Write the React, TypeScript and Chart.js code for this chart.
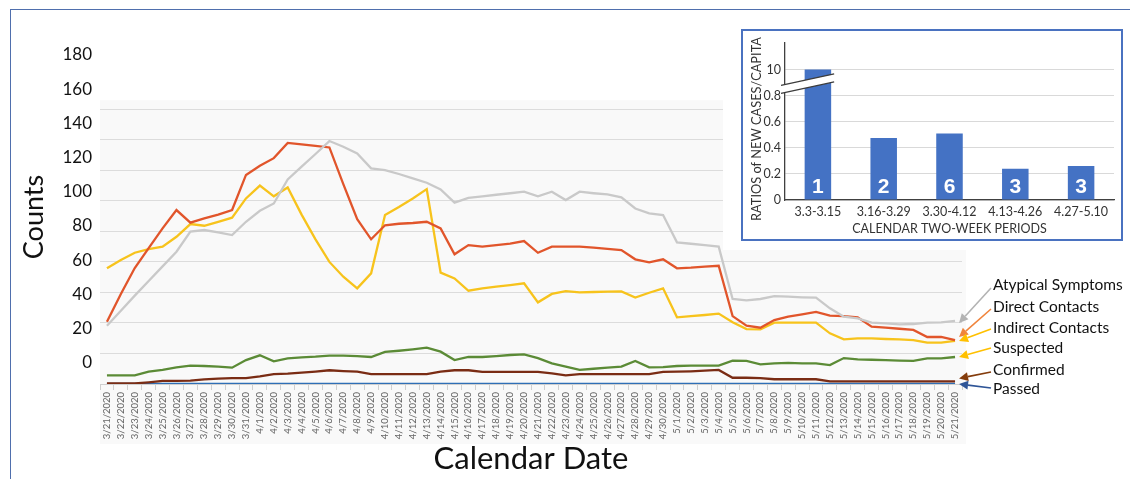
import React, { useEffect, useRef } from "react";
import { Chart, registerables } from "chart.js";

Chart.register(...registerables);

const FONT = "Lato, 'Open Sans', 'DejaVu Sans', sans-serif";

// ---------- main chart data ----------
const dates = [
  "3/21/2020", "3/22/2020", "3/23/2020", "3/24/2020", "3/25/2020", "3/26/2020", "3/27/2020", "3/28/2020", "3/29/2020", "3/30/2020", "3/31/2020",
  "4/1/2020", "4/2/2020", "4/3/2020", "4/4/2020", "4/5/2020", "4/6/2020", "4/7/2020", "4/8/2020", "4/9/2020", "4/10/2020",
  "4/11/2020", "4/12/2020", "4/13/2020", "4/14/2020", "4/15/2020", "4/16/2020", "4/17/2020", "4/18/2020", "4/19/2020", "4/20/2020",
  "4/21/2020", "4/22/2020", "4/23/2020", "4/24/2020", "4/25/2020", "4/26/2020", "4/27/2020", "4/28/2020", "4/29/2020", "4/30/2020",
  "5/1/2020", "5/2/2020", "5/3/2020", "5/4/2020", "5/5/2020", "5/6/2020", "5/7/2020", "5/8/2020", "5/9/2020", "5/10/2020",
  "5/11/2020", "5/12/2020", "5/13/2020", "5/14/2020", "5/15/2020", "5/16/2020", "5/17/2020", "5/18/2020", "5/19/2020", "5/20/2020",
  "5/21/2020",
];

const atypicalSymptoms = [
  38.2, 48, 57.9, 67.5, 77.1, 86.7, 99.8, 100.9, 99.3, 97.6,
  106.3, 113.5, 118.3, 134, 142.4, 150.7, 159.2, 155.5, 151, 141.3,
  140.2, 137.6, 134.7, 131.9, 127.5, 118.8, 122, 123, 124, 125,
  126, 123, 126, 120.5, 126, 125, 124.2, 122.3, 115, 111.8,
  110.7, 92.8, 91.9, 91, 90, 55.7, 54.8, 55.7, 57.6, 57.2,
  56.8, 56.6, 49.6, 44.1, 43, 40.2, 39.7, 39.1, 39.3, 40.2,
  40.4, 41.3,
];

const directContacts = [
  40.8, 59, 76, 89, 102, 114, 105.7, 108.5, 111, 114,
  137, 143, 148, 158, 157, 156, 155, 131, 108, 94.8,
  104, 105, 105.5, 106.3, 102, 85, 91, 90, 91, 92,
  93.7, 86, 90, 90, 90, 89.3, 88.6, 87.8, 81.7, 79.7,
  81.7, 75.8, 76.2, 76.9, 77.5, 44.5, 38.2, 36.9, 41.9, 44.1,
  45.6, 47.2, 44.8, 44.5, 43.7, 37.6, 36.9, 36.2, 35.4, 30.8,
  30.8, 28.8,
];

const indirectContacts = [
  75.8, 81.2, 86, 88.4, 90, 96.5, 104.8, 103.7, 106.3, 109,
  121.6, 130, 123, 128.8, 111, 94.8, 80, 70.3, 62.7, 72.5,
  110.7, 116, 121.6, 127.7, 73, 69.2, 61.1, 62.7, 63.8, 64.8,
  66, 53.5, 59, 60.9, 60, 60.3, 60.5, 60.7, 56.6, 59.8,
  62.7, 43.7, 44.5, 45.2, 46.1, 40.4, 36, 35.8, 40.2, 40.2,
  40.2, 40.2, 33.2, 29.3, 29.9, 29.9, 29.5, 29.3, 28.8, 27.1,
  27.1, 28.2,
];

const suspected = [
  5.7, 5.7, 5.7, 8.1, 9.2, 10.9, 12, 11.8, 11.4, 10.7,
  15.7, 18.8, 14.8, 16.8, 17.5, 17.9, 18.6, 18.6, 18.3, 17.7,
  21, 21.8, 22.7, 23.8, 21.2, 15.7, 17.7, 17.7, 18.3, 19,
  19.4, 17, 13.5, 11.4, 9.2, 10, 10.7, 11.4, 15.1, 10.9,
  11.1, 11.8, 12, 12, 12, 15.3, 15.1, 12.9, 13.5, 13.8,
  13.5, 13.5, 12.4, 17, 16.2, 15.9, 15.7, 15.3, 15.1, 16.8,
  16.8, 17.7,
];

const confirmed = [
  0.4, 0.4, 0.4, 1.1, 2, 2, 2.2, 3, 3.5, 3.9,
  3.9, 5, 6.5, 6.8, 7.4, 8.1, 9, 8.5, 8.1, 6.5,
  6.5, 6.5, 6.5, 6.5, 8.1, 9, 9, 7.9, 7.9, 7.9,
  7.9, 7.9, 7, 5.7, 6.5, 6.5, 6.5, 6.5, 6.5, 6.5,
  7.9, 8.1, 8.3, 8.7, 9.2, 4.1, 4.1, 3.9, 3.1, 3.1,
  3.1, 3.1, 1.7, 1.7, 1.7, 1.7, 1.7, 1.7, 1.7, 1.7,
  1.7, 1.7,
];

const passed = [
  0, 0, 0, 0, 0, 0, 0, 0, 0, 0,
  0, 0, 0, 0, 0, 0, 0, 0, 0, 0,
  0, 0, 0, 0, 0, 0, 0, 0, 0, 0,
  0, 0, 0, 0, 0, 0, 0, 0, 0, 0,
  0, 0, 0, 0, 0, 0, 0, 0, 0, 0,
  0, 0, 0, 0, 0, 0, 0, 0, 0, 0,
  0, 0,
];

const seriesNames = ["Atypical Symptoms", "Direct Contacts", "Indirect Contacts", "Suspected", "Confirmed", "Passed"];
const seriesColors = ["#c9c9c9", "#e1552b", "#f7c31c", "#5b8b36", "#7a2c14", "#2f6fb6"];
const arrowColors = ["#b3b3b3", "#f0843c", "#ffc000", "#ffc000", "#843c0c", "#2f5597"];

// gridline values of the data axis, and the (offset) typed labels of the count axis
const countGridTicks = [0, 20, 40, 60, 80, 100, 120, 140, 160, 180];
const countLabelTicks = [0, 20, 40, 60, 80, 100, 120, 140, 160, 180];

// ---------- inset data ----------
const periods = ["3.3-3.15", "3.16-3.29", "3.30-4.12", "4.13-4.26", "4.27-5.10"];
const ratios = [10, 0.475, 0.51, 0.24, 0.26];
const periodCounts = [1, 2, 6, 3, 3];
const ratioTicks = [0, 0.2, 0.4, 0.6, 0.8, 1.0];
const BREAK_AT = 1.0; // values above the break are drawn at this position (broken axis)

const bgPlugin = {
  id: "plotBg",
  beforeDraw(chart: any) {
    const { ctx, chartArea } = chart;
    const y = chart.scales.y;
    const top = y.getPixelForValue(186);
    ctx.save();
    ctx.fillStyle = "#f9f9f9";
    ctx.fillRect(chartArea.left, top, chartArea.right - chartArea.left + 4, chartArea.bottom + 60 - top);
    ctx.restore();
  },
};

const calloutPlugin = {
  id: "callouts",
  afterDraw(chart: any) {
    const { ctx } = chart;
    const labelY = [285, 307, 328, 348, 370, 389];
    const tailY = [288, 309, 329, 348, 372, 388];
    const tipDy = [2, -3, 0, 0, -3, 0];
    const labelX = 993;
    ctx.save();
    chart.data.datasets.forEach((ds: any, i: number) => {
      const meta = chart.getDatasetMeta(i);
      const pt = meta.data[meta.data.length - 1];
      const tx = pt.x + 4;
      const ty = pt.y + tipDy[i];
      const sx = labelX - 2;
      const sy = tailY[i];
      const ang = Math.atan2(ty - sy, tx - sx);
      const hl = 9;
      const hw = 4.5;
      const bx = tx - hl * Math.cos(ang);
      const by = ty - hl * Math.sin(ang);
      ctx.strokeStyle = arrowColors[i];
      ctx.fillStyle = arrowColors[i];
      ctx.lineWidth = 1.6;
      ctx.beginPath();
      ctx.moveTo(sx, sy);
      ctx.lineTo(bx, by);
      ctx.stroke();
      ctx.beginPath();
      ctx.moveTo(tx, ty);
      ctx.lineTo(bx + hw * Math.sin(ang), by - hw * Math.cos(ang));
      ctx.lineTo(bx - hw * Math.sin(ang), by + hw * Math.cos(ang));
      ctx.closePath();
      ctx.fill();
      ctx.fillStyle = "#111";
      ctx.font = `15.5px ${FONT}`;
      ctx.textBaseline = "middle";
      ctx.textAlign = "left";
      ctx.fillText(seriesNames[i], labelX, labelY[i]);
    });
    ctx.restore();
  },
};

const insetPlugin = {
  id: "insetExtras",
  afterDatasetsDraw(chart: any) {
    const { ctx, chartArea } = chart;
    const meta = chart.getDatasetMeta(0);
    const ys = chart.scales.y;
    ctx.save();
    // counts inside the bars
    ctx.fillStyle = "#ffffff";
    ctx.font = `bold 21px 'Liberation Sans', Arial, sans-serif`;
    ctx.textAlign = "center";
    ctx.textBaseline = "middle";
    meta.data.forEach((bar: any, i: number) => {
      ctx.fillText(String(periodCounts[i]), bar.x, chartArea.bottom - 13);
    });
    // axis break marks on the first bar
    const b0 = meta.data[0];
    const xl = chartArea.left - 4;
    const xr = b0.x + b0.width / 2 + 3;
    const yc = ys.getPixelForValue(0.9) + 1;
    const hd = (xr - xl) * 0.107;
    ctx.fillStyle = "#ffffff";
    ctx.beginPath();
    ctx.moveTo(xl, yc - 4 + hd);
    ctx.lineTo(xr, yc - 4 - hd);
    ctx.lineTo(xr, yc + 4 - hd);
    ctx.lineTo(xl, yc + 4 + hd);
    ctx.closePath();
    ctx.fill();
    ctx.strokeStyle = "#3c3c3c";
    ctx.lineWidth = 1.3;
    ctx.beginPath();
    ctx.moveTo(xl, yc - 4 + hd);
    ctx.lineTo(xr, yc - 4 - hd);
    ctx.moveTo(xl, yc + 4 + hd);
    ctx.lineTo(xr, yc + 4 - hd);
    ctx.stroke();
    // rotated y title
    ctx.fillStyle = "#333";
    ctx.font = `12.8px ${FONT}`;
    ctx.translate(14, 98);
    ctx.rotate(-Math.PI / 2);
    ctx.textAlign = "center";
    ctx.textBaseline = "middle";
    ctx.fillText("RATIOS of NEW CASES/CAPITA", 0, 0);
    ctx.restore();
  },
};

export default function App() {
  const mainRef = useRef<HTMLCanvasElement | null>(null);
  const insetRef = useRef<HTMLCanvasElement | null>(null);

  useEffect(() => {
    Chart.defaults.font.family = FONT;
    const datasets = [atypicalSymptoms, directContacts, indirectContacts, suspected, confirmed, passed].map((d, i) => ({
      label: seriesNames[i],
      data: d,
      borderColor: seriesColors[i],
      backgroundColor: seriesColors[i],
      borderWidth: 2.3,
      pointRadius: 0,
      tension: 0,
      fill: false,
      yAxisID: "y",
    }));

    const main = new Chart(mainRef.current as HTMLCanvasElement, {
      type: "line",
      data: { labels: dates, datasets },
      options: {
        animation: false,
        responsive: false,
        maintainAspectRatio: false,
        layout: { padding: { left: 0, top: 50, right: 168, bottom: 0 } },
        plugins: { legend: { display: false }, tooltip: { enabled: false } },
        scales: {
          x: {
            type: "category",
            offset: true,
            grid: { offset: true, drawOnChartArea: false, drawTicks: true, tickLength: 6, color: "#d0d0d0" },
            border: { color: "#d0d0d0" },
            ticks: { autoSkip: false, minRotation: 90, maxRotation: 90, padding: 2, color: "#666", font: { size: 9.5 } },
            title: { display: true, text: "Calendar Date", color: "#111", font: { size: 31 }, padding: { top: 0, bottom: 1 } },
            afterFit: (s: any) => { s.height = 95; },
          },
          y: {
            type: "linear",
            axis: "y",
            position: "left",
            min: 0,
            max: 218.86,
            afterBuildTicks: (s: any) => { s.ticks = countGridTicks.map((v) => ({ value: v })); },
            ticks: { display: false },
            grid: { color: "#dcdcdc", drawTicks: false },
            border: { display: false },
            afterFit: (s: any) => { s.width = 0; },
          },
          yl: {
            type: "linear",
            axis: "y",
            position: "left",
            min: -12.46,
            max: 182.9,
            afterBuildTicks: (s: any) => { s.ticks = countLabelTicks.map((v) => ({ value: v })); },
            ticks: { color: "#111", font: { size: 17 }, padding: 8 },
            grid: { display: false, drawTicks: false },
            border: { display: false },
            title: { display: true, text: "Counts", color: "#111", font: { size: 27 }, padding: { top: 18, bottom: 0 } },
            afterFit: (s: any) => { s.width = 100; },
          },
        },
      } as any,
      plugins: [bgPlugin, calloutPlugin],
    });

    const inset = new Chart(insetRef.current as HTMLCanvasElement, {
      type: "bar",
      data: {
        labels: periods,
        datasets: [
          {
            data: ratios.map((v) => (v > BREAK_AT ? BREAK_AT : v)),
            backgroundColor: "#4472c4",
            barPercentage: 0.403,
            categoryPercentage: 1,
          },
        ],
      },
      options: {
        animation: false,
        responsive: false,
        maintainAspectRatio: false,
        layout: { padding: { left: 0, top: 8, right: 7, bottom: 0 } },
        plugins: { legend: { display: false }, tooltip: { enabled: false } },
        scales: {
          x: {
            grid: { display: false, drawTicks: false },
            border: { color: "#404040", width: 1.3 },
            ticks: { color: "#333", font: { size: 12.5 }, padding: 4 },
            title: { display: true, text: "CALENDAR TWO-WEEK PERIODS", color: "#333", font: { size: 12.5 }, padding: { top: 0, bottom: 3 } },
            afterFit: (s: any) => { s.height = 39; },
          },
          y: {
            min: 0,
            max: 1.2075,
            afterBuildTicks: (s: any) => { s.ticks = ratioTicks.map((v) => ({ value: v })); },
            ticks: {
              color: "#333",
              font: { size: 12.5 },
              padding: 4,
              callback: (v: any) => (v === BREAK_AT ? "10" : String(Math.round(v * 10) / 10)),
            },
            grid: { color: "#d9d9d9", drawTicks: false },
            border: { color: "#404040", width: 1.3 },
            afterFit: (s: any) => { s.width = 42; },
          },
        },
      } as any,
      plugins: [insetPlugin],
    });

    return () => {
      main.destroy();
      inset.destroy();
    };
  }, []);

  return (
    <div style={{ position: "fixed", left: 0, top: 0, width: 1130, height: 479, background: "#fff", overflow: "hidden" }}>
      <canvas ref={mainRef} width={1130} height={479} style={{ position: "absolute", left: 0, top: 0, width: 1130, height: 479 }} />
      <div style={{ position: "absolute", left: 10, top: 9, right: -10, bottom: -10, borderTop: "1.5px solid #4f6fad", borderLeft: "1.5px solid #4f6fad" }} />
      <div style={{ position: "absolute", left: 723, top: 11, width: 407, height: 239, background: "#fff" }} />
      <div style={{ position: "absolute", left: 741, top: 29, width: 382, height: 212, boxSizing: "border-box", border: "2px solid #4a72c0", background: "#fff" }}>
        <canvas ref={insetRef} width={378} height={208} style={{ display: "block", width: 378, height: 208 }} />
      </div>
    </div>
  );
}
